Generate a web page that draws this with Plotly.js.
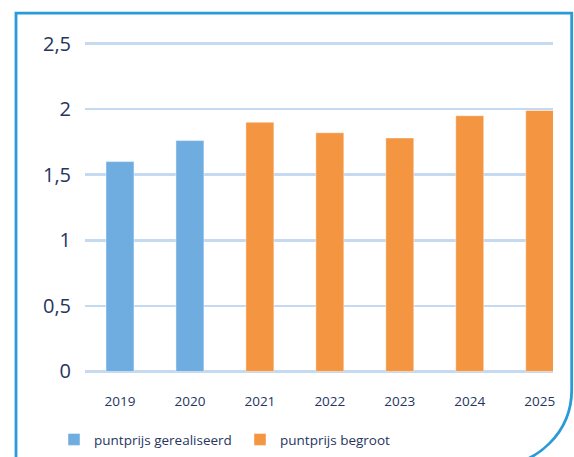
<!DOCTYPE html>
<html>
<head>
<meta charset="utf-8">
<script src="https://cdn.plot.ly/plotly-3.0.1.min.js"></script>
<style>
  html, body { margin: 0; padding: 0; background: #ffffff; overflow: hidden; }
  #chart { width: 574px; height: 457px; }
</style>
</head>
<body>
<div id="chart"></div>
<script>
// ---- data ----
var yearsRealised = ['2019', '2020'];
var valuesRealised = [1.60, 1.76];
var yearsBudgeted = ['2021', '2022', '2023', '2024', '2025'];
var valuesBudgeted = [1.90, 1.82, 1.78, 1.95, 1.99];
var allYears = ['2019', '2020', '2021', '2022', '2023', '2024', '2025'];
var yTickVals = [0, 0.5, 1, 1.5, 2, 2.5];
var yTickText = ['0', '0,5', '1', '1,5', '2', '2,5'];
var seriesNames = ['puntprijs gerealiseerd', 'puntprijs begroot'];

// ---- layout geometry (pixels) ----
var W = 574, H = 457;
var yMin = -0.012, yMax = 2.512;
var unitPx = 131.3;
var plotL = 85, plotR = 553;
var plotB = 371.7 - yMin * unitPx;      // pixel of yMin
var plotT = 371.7 - yMax * unitPx;      // pixel of yMax
var pw = plotR - plotL, ph = plotB - plotT;
function xp(px) { return (px - plotL) / pw; }
function yp(py) { return (plotB - py) / ph; }

// rounded frame
var fL = 16, fT = 13, fR = 571.7, fBot = 466, rad = 76, k = 0.5523 * rad;
var framePath =
  'M ' + xp(fL) + ',' + yp(fBot + 10) +
  ' L ' + xp(fL) + ',' + yp(fT) +
  ' L ' + xp(fR) + ',' + yp(fT) +
  ' L ' + xp(fR) + ',' + yp(fBot - rad) +
  ' C ' + xp(fR) + ',' + yp(fBot - rad + k) + ' ' +
          xp(fR - rad + k) + ',' + yp(fBot) + ' ' +
          xp(fR - rad) + ',' + yp(fBot) +
  ' L ' + xp(fL) + ',' + yp(fBot);

var textColor = '#26355f';
var fontFam = '"Open Sans", "Noto Sans", sans-serif';

var traces = [
  {
    type: 'bar',
    name: seriesNames[0],
    x: yearsRealised,
    y: valuesRealised,
    width: 0.4,
    marker: { color: '#6face0', line: { color: 'rgba(255,255,255,0.45)', width: 1 } },
    hoverinfo: 'x+y'
  },
  {
    type: 'bar',
    name: seriesNames[1],
    x: yearsBudgeted,
    y: valuesBudgeted,
    width: 0.4,
    marker: { color: '#f39541', line: { color: 'rgba(255,255,255,0.45)', width: 1 } },
    hoverinfo: 'x+y'
  }
];

var layout = {
  width: W,
  height: H,
  margin: { l: plotL, r: W - plotR, t: plotT, b: H - plotB, pad: 0, autoexpand: false },
  paper_bgcolor: '#ffffff',
  plot_bgcolor: '#ffffff',
  barmode: 'overlay',
  font: { family: fontFam, color: textColor },
  xaxis: {
    type: 'category',
    categoryorder: 'array',
    categoryarray: allYears,
    range: [-0.5, 6.19],
    showgrid: false,
    zeroline: false,
    showline: false,
    ticks: '',
    ticklabelstandoff: 18,
    tickfont: { size: 13.5, color: textColor, family: fontFam },
    fixedrange: true
  },
  yaxis: {
    range: [yMin, yMax],
    tickvals: yTickVals,
    ticktext: yTickText,
    showgrid: true,
    gridcolor: '#c5d9f1',
    gridwidth: 2.5,
    zeroline: false,
    showline: false,
    ticks: '',
    ticklabelstandoff: 13,
    tickfont: { size: 20, color: textColor, family: fontFam },
    fixedrange: true
  },
  showlegend: true,
  legend: {
    orientation: 'h',
    x: xp(54),
    xanchor: 'left',
    y: yp(440),
    yanchor: 'middle',
    font: { size: 13.5, color: textColor, family: fontFam },
    bgcolor: 'rgba(0,0,0,0)',
    itemwidth: 30,
    entrywidth: 141,
    traceorder: 'normal'
  },
  shapes: [
    {
      type: 'path',
      xref: 'paper',
      yref: 'paper',
      path: framePath,
      line: { color: '#2a9ad8', width: 2.8 },
      fillcolor: 'rgba(0,0,0,0)',
      layer: 'above'
    }
  ]
};

Plotly.newPlot('chart', traces, layout, { displayModeBar: false, staticPlot: true });
</script>
</body>
</html>
